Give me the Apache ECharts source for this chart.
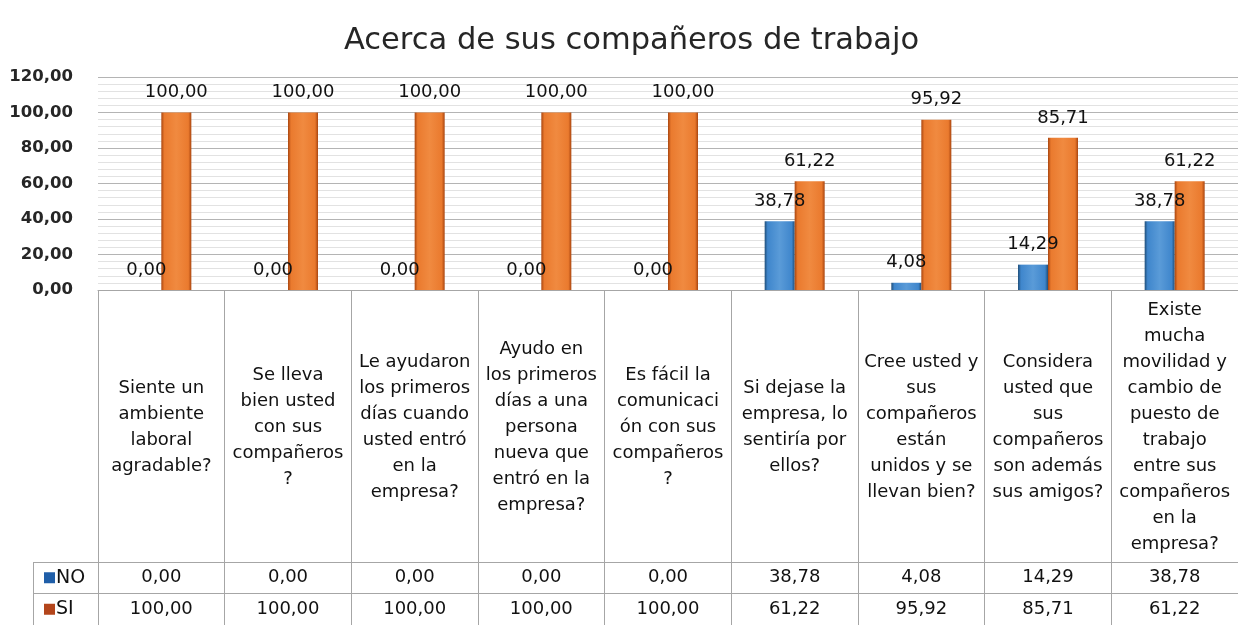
<!DOCTYPE html>
<html>
<head>
<meta charset="utf-8">
<script src="https://cdn.jsdelivr.net/npm/echarts@6/dist/echarts.min.js"></script>
<style>
  html, body { margin: 0; padding: 0; background: #ffffff; }
  #chart { width: 1238px; height: 625px; }
</style>
</head>
<body>
<div id="chart"></div>
<script>
// ---- Data ----
const titleText = 'Acerca de sus compañeros de trabajo';
const categories = [
  'Siente un\nambiente\nlaboral\nagradable?',
  'Se lleva\nbien usted\ncon sus\ncompañeros\n?',
  'Le ayudaron\nlos primeros\ndías cuando\nusted entró\nen la\nempresa?',
  'Ayudo en\nlos primeros\ndías a una\npersona\nnueva que\nentró en la\nempresa?',
  'Es fácil la\ncomunicaci\nón con sus\ncompañeros\n?',
  'Si dejase la\nempresa, lo\nsentiría por\nellos?',
  'Cree usted y\nsus\ncompañeros\nestán\nunidos y se\nllevan bien?',
  'Considera\nusted que\nsus\ncompañeros\nson además\nsus amigos?',
  'Existe\nmucha\nmovilidad y\ncambio de\npuesto de\ntrabajo\nentre sus\ncompañeros\nen la\nempresa?'
];
const seriesNames = ['NO', 'SI'];
const noValues = [0.00, 0.00, 0.00, 0.00, 0.00, 38.78, 4.08, 14.29, 38.78];
const siValues = [100.00, 100.00, 100.00, 100.00, 100.00, 61.22, 95.92, 85.71, 61.22];
const yMin = 0, yMax = 120, yInterval = 20;

// ---- Helpers ----
const fmt = v => Number(v).toFixed(2).replace('.', ',');
const FONT = 'DejaVu Sans';
const TXT = '#111111';
const GRIDC = '#a6a6a6';

function barGrad(dark, main, light) {
  return new echarts.graphic.LinearGradient(0, 0, 1, 0, [
    { offset: 0, color: dark },
    { offset: 0.1, color: main },
    { offset: 0.5, color: light },
    { offset: 0.9, color: main },
    { offset: 1, color: dark }
  ]);
}
const noColor = barGrad('#1f4e79', '#3f86cc', '#5a9bd8');
const siColor = barGrad('#a9450f', '#ea7a2e', '#f08a40');
const legendColors = { NO: '#1f5ea8', SI: '#b3451b' };

const tableRows = seriesNames.map(n => n);
const tableData = [];
[noValues, siValues].forEach((arr, r) => {
  arr.forEach((v, i) => tableData.push([i, tableRows[r], v]));
});

const chart = echarts.init(document.getElementById('chart'), null, { renderer: 'canvas' });
chart.setOption({
  backgroundColor: '#ffffff',
  animation: false,
  title: {
    text: titleText,
    left: 339,
    top: 21,
    textStyle: { fontFamily: FONT, fontSize: 30.5, fontWeight: 'normal', color: '#262626' }
  },
  grid: [
    { left: 98, right: -6, top: 77, height: 213 },
    { left: 98, right: -6, top: 562, height: 66 }
  ],
  xAxis: [
    {
      type: 'category', gridIndex: 0, data: categories,
      axisLine: { show: true, lineStyle: { color: GRIDC, width: 1 } },
      axisTick: { show: true, interval: 0, length: 272, lineStyle: { color: GRIDC } },
      axisLabel: {
        interval: 0, margin: 137, verticalAlign: 'middle', align: 'center',
        fontFamily: FONT, fontSize: 18, lineHeight: 26, color: TXT
      },
      splitLine: { show: false }
    },
    {
      type: 'category', gridIndex: 1, data: categories,
      axisLine: { show: false },
      axisTick: { show: false },
      axisLabel: { show: false },
      splitLine: { show: true, interval: 0, lineStyle: { color: GRIDC } }
    }
  ],
  yAxis: [
    {
      type: 'value', gridIndex: 0, min: yMin, max: yMax, interval: yInterval,
      axisLine: { show: false }, axisTick: { show: false },
      minorTick: { show: false, splitNumber: 5 },
      axisLabel: {
        formatter: v => fmt(v), margin: 25,
        fontFamily: FONT, fontSize: 16.5, fontWeight: 'bold', color: '#262626'
      },
      splitLine: { show: true, lineStyle: { color: '#b4b4b4' } },
      minorSplitLine: { show: true, lineStyle: { color: '#e2e2e2' } }
    },
    {
      type: 'category', gridIndex: 1, data: tableRows, inverse: true,
      axisLine: { show: true, lineStyle: { color: GRIDC } },
      axisTick: { show: true, length: 65, lineStyle: { color: GRIDC } },
      axisLabel: {
        margin: 54, align: 'left',
        formatter: v => '{sq' + v + '|}{t|' + v + '}',
        rich: {
          sqNO: { width: 11, height: 11, backgroundColor: legendColors.NO },
          sqSI: { width: 11, height: 11, backgroundColor: legendColors.SI },
          t: { fontFamily: FONT, fontSize: 19, color: TXT, padding: [0, 0, 0, 1] }
        }
      },
      splitLine: { show: true, lineStyle: { color: GRIDC } }
    }
  ],
  series: [
    {
      name: seriesNames[0], type: 'bar', xAxisIndex: 0, yAxisIndex: 0,
      data: noValues, barWidth: 30, barGap: '0%',
      itemStyle: { color: noColor },
      label: {
        show: true, position: 'top', distance: 11, formatter: p => fmt(p.value),
        fontFamily: FONT, fontSize: 18, color: TXT
      }
    },
    {
      name: seriesNames[1], type: 'bar', xAxisIndex: 0, yAxisIndex: 0,
      data: siValues, barWidth: 30, barGap: '0%',
      itemStyle: { color: siColor },
      label: {
        show: true, position: 'top', distance: 11, formatter: p => fmt(p.value),
        fontFamily: FONT, fontSize: 18, color: TXT
      }
    },
    {
      name: 'tabla', type: 'scatter', xAxisIndex: 1, yAxisIndex: 1,
      data: tableData, symbolSize: 1,
      itemStyle: { color: 'rgba(255,255,255,0)' },
      silent: true,
      label: {
        show: true, position: 'inside', formatter: p => fmt(p.value[2]),
        fontFamily: FONT, fontSize: 18, color: TXT,
        textBorderWidth: 0, opacity: 1
      },
      emphasis: { disabled: true }
    }
  ],
  graphic: [
    { type: 'line', shape: { x1: 33.5, y1: 562, x2: 33.5, y2: 628 }, style: { stroke: GRIDC, lineWidth: 1 }, silent: true }
  ]
});
</script>
</body>
</html>
